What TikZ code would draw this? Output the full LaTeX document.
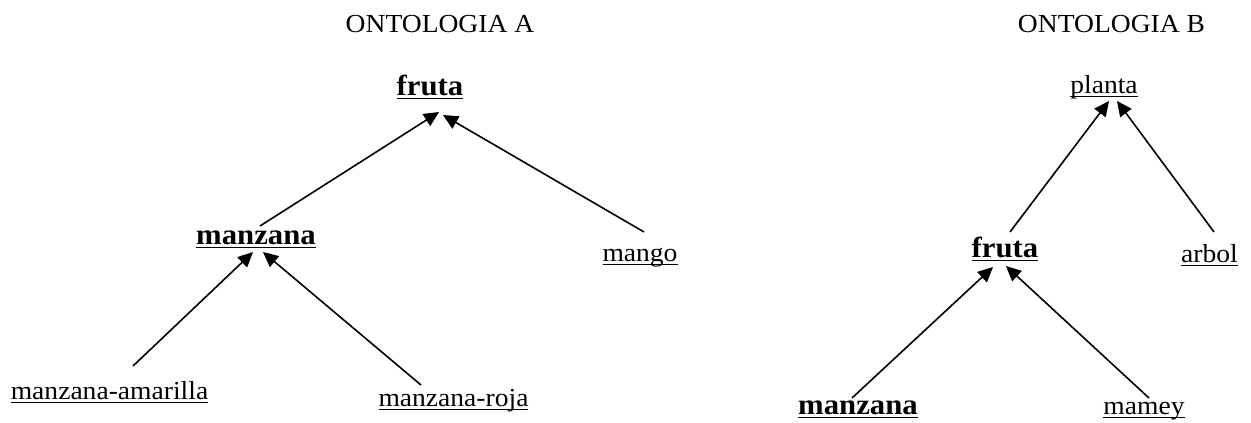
\documentclass[tikz,border=0pt]{standalone}
\usepackage{fontspec}
\setmainfont{Liberation Serif}[FakeStretch=1.06]
\usetikzlibrary{arrows.meta,calc}
\newcommand\myul[1]{\setbox0\hbox{#1}\rlap{\rule[-4pt]{\wd0}{1.3pt}}\box0}
\tikzset{
  lbl/.style={anchor=base,inner sep=0pt,font=\fontsize{26}{30}\selectfont},
  blbl/.style={anchor=base,inner sep=0pt,font=\fontsize{29}{33}\selectfont\bfseries},
  arr/.style={-{Triangle[length=15pt,width=14pt]},line width=1.6pt}
}
\begin{document}
\begin{tikzpicture}[x=1pt,y=-1pt]
\useasboundingbox (0,0) rectangle (1251,423);
% titles
\node[lbl] (titA) at (440,32) {ONTOLOGIA A};
\node[lbl] (titB) at (1111.5,32) {ONTOLOGIA B};
% ontology A
\node[blbl] (fA) at (430,95) {\myul{fruta}};
\node[blbl] (mzA) at (256,244) {\myul{manzana}};
\node[lbl] (mgA) at (640,261) {\myul{mango}};
\node[lbl] (amA) at (109.5,399) {\myul{manzana-amarilla}};
\node[lbl] (rjA) at (453.5,406) {\myul{manzana-roja}};
% ontology B
\node[lbl] (plB) at (1104,93) {\myul{planta}};
\node[blbl] (fB) at (1005,257) {\myul{fruta}};
\node[lbl] (arB) at (1209.5,262) {\myul{arbol}};
\node[blbl] (mzB) at (858,414) {\myul{manzana}};
\node[lbl] (mmB) at (1144,414) {\myul{mamey}};
% connectors A
\draw[arr] ($(mzA.base)+(4,-18)$) -- ($(fA.base)+(9,17)$);
\draw[arr] ($(mgA.base)+(4,-29)$) -- ($(fA.base)+(13,20)$);
\draw[arr] ($(amA.base)+(23.5,-33)$) -- ($(mzA.base)+(-3,8)$);
\draw[arr] ($(rjA.base)+(-32.5,-21)$) -- ($(mzA.base)+(7,8)$);
% connectors B
\draw[arr] ($(fB.base)+(5,-25)$) -- ($(plB.base)+(5,8)$);
\draw[arr] ($(arB.base)+(4.5,-30)$) -- ($(plB.base)+(13,8)$);
\draw[arr] ($(mzB.base)+(-6,-16)$) -- ($(fB.base)+(-12,10)$);
\draw[arr] ($(mmB.base)+(5,-16)$) -- ($(fB.base)+(1,9)$);
\end{tikzpicture}
\end{document}
